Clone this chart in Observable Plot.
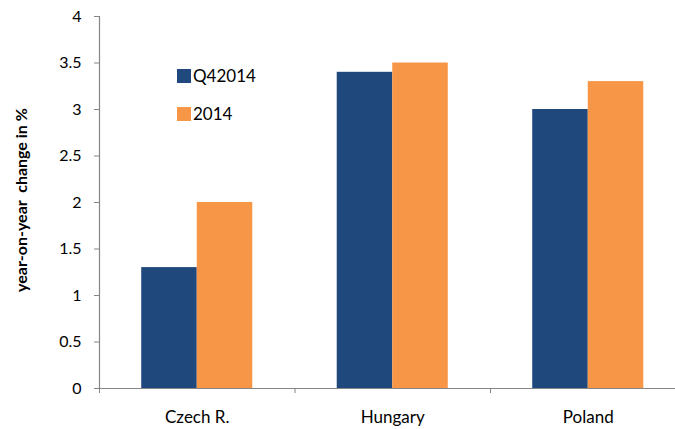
<!DOCTYPE html>
<html><head><meta charset="utf-8">
<script src="https://cdn.jsdelivr.net/npm/d3@7"></script>
<script src="https://cdn.jsdelivr.net/npm/@observablehq/plot@0.6"></script>
<style>
body{margin:0;background:#fff;}
#wrap{position:relative;width:675px;height:429px;font-family:Lato,sans-serif;color:#000;}
#wrap svg{position:absolute;left:0;top:0;}
.ytitle{position:absolute;left:21px;top:200px;transform:translate(-50%,-50%) rotate(-90deg);white-space:pre;font-weight:bold;font-size:16px;line-height:16px;}
.leg{position:absolute;left:177px;display:flex;align-items:center;font-size:17px;height:14px;line-height:14px;}
.sw{width:14px;height:14px;margin-right:2px;}
</style></head><body><div id="wrap"></div>
<script>
const countries = ["Czech R.", "Hungary", "Poland"];
const seriesNames = ["Q42014", "2014"];
const q42014 = [1.3, 3.4, 3.0];
const y2014 = [2.0, 3.5, 3.3];
const yTicks = [0, 0.5, 1, 1.5, 2, 2.5, 3, 3.5, 4];
const colors = ["#1F497D", "#F79646"];

const rows = countries.map((c, i) => ({country: c, i, a: q42014[i], b: y2014[i]}));
const w = 0.284;
const axisColor = "#868686";

const chart = Plot.plot({
  width: 675, height: 429,
  marginLeft: 99, marginRight: 0, marginTop: 16, marginBottom: 41,
  style: {fontFamily: "Lato, sans-serif", fontSize: "16px", color: "#000", background: "transparent", overflow: "visible"},
  x: {domain: [0, 3], range: [99, 685.5], label: null},
  y: {domain: [0, 4], label: null},
  marks: [
    Plot.rectY(rows, {x1: d => d.i + 0.5 - w, x2: d => d.i + 0.5, y1: 0, y2: "a", fill: colors[0]}),
    Plot.rectY(rows, {x1: d => d.i + 0.5, x2: d => d.i + 0.5 + w, y1: 0, y2: "b", fill: colors[1]}),
    Plot.ruleX([0], {stroke: axisColor, strokeWidth: 1.2}),
    Plot.ruleY([0], {stroke: axisColor, strokeWidth: 1.2}),
    Plot.axisY({ticks: yTicks, tickSize: 5, tickPadding: 13, tickFormat: d => String(d), stroke: axisColor, fill: "#000", label: null}),
    Plot.axisX({ticks: [0, 1, 2, 3], tickSize: 5, tickFormat: () => "", stroke: axisColor, label: null}),
    Plot.axisX({ticks: countries.map((c, i) => i + 0.5), tickSize: 0, tickPadding: 22, fontSize: 17, tickFormat: d => countries[Math.floor(d)], fill: "#000", label: null})
  ]
});

const wrap = document.getElementById("wrap");
wrap.appendChild(chart);

const title = document.createElement("div");
title.className = "ytitle";
title.textContent = "year-on-year  change in %";
wrap.appendChild(title);

[69, 107].forEach((top, k) => {
  const leg = document.createElement("div");
  leg.className = "leg";
  leg.style.top = top + "px";
  const sw = document.createElement("div");
  sw.className = "sw";
  sw.style.background = colors[k];
  const t = document.createElement("span");
  t.textContent = seriesNames[k];
  leg.appendChild(sw);
  leg.appendChild(t);
  wrap.appendChild(leg);
});
</script></body></html>
